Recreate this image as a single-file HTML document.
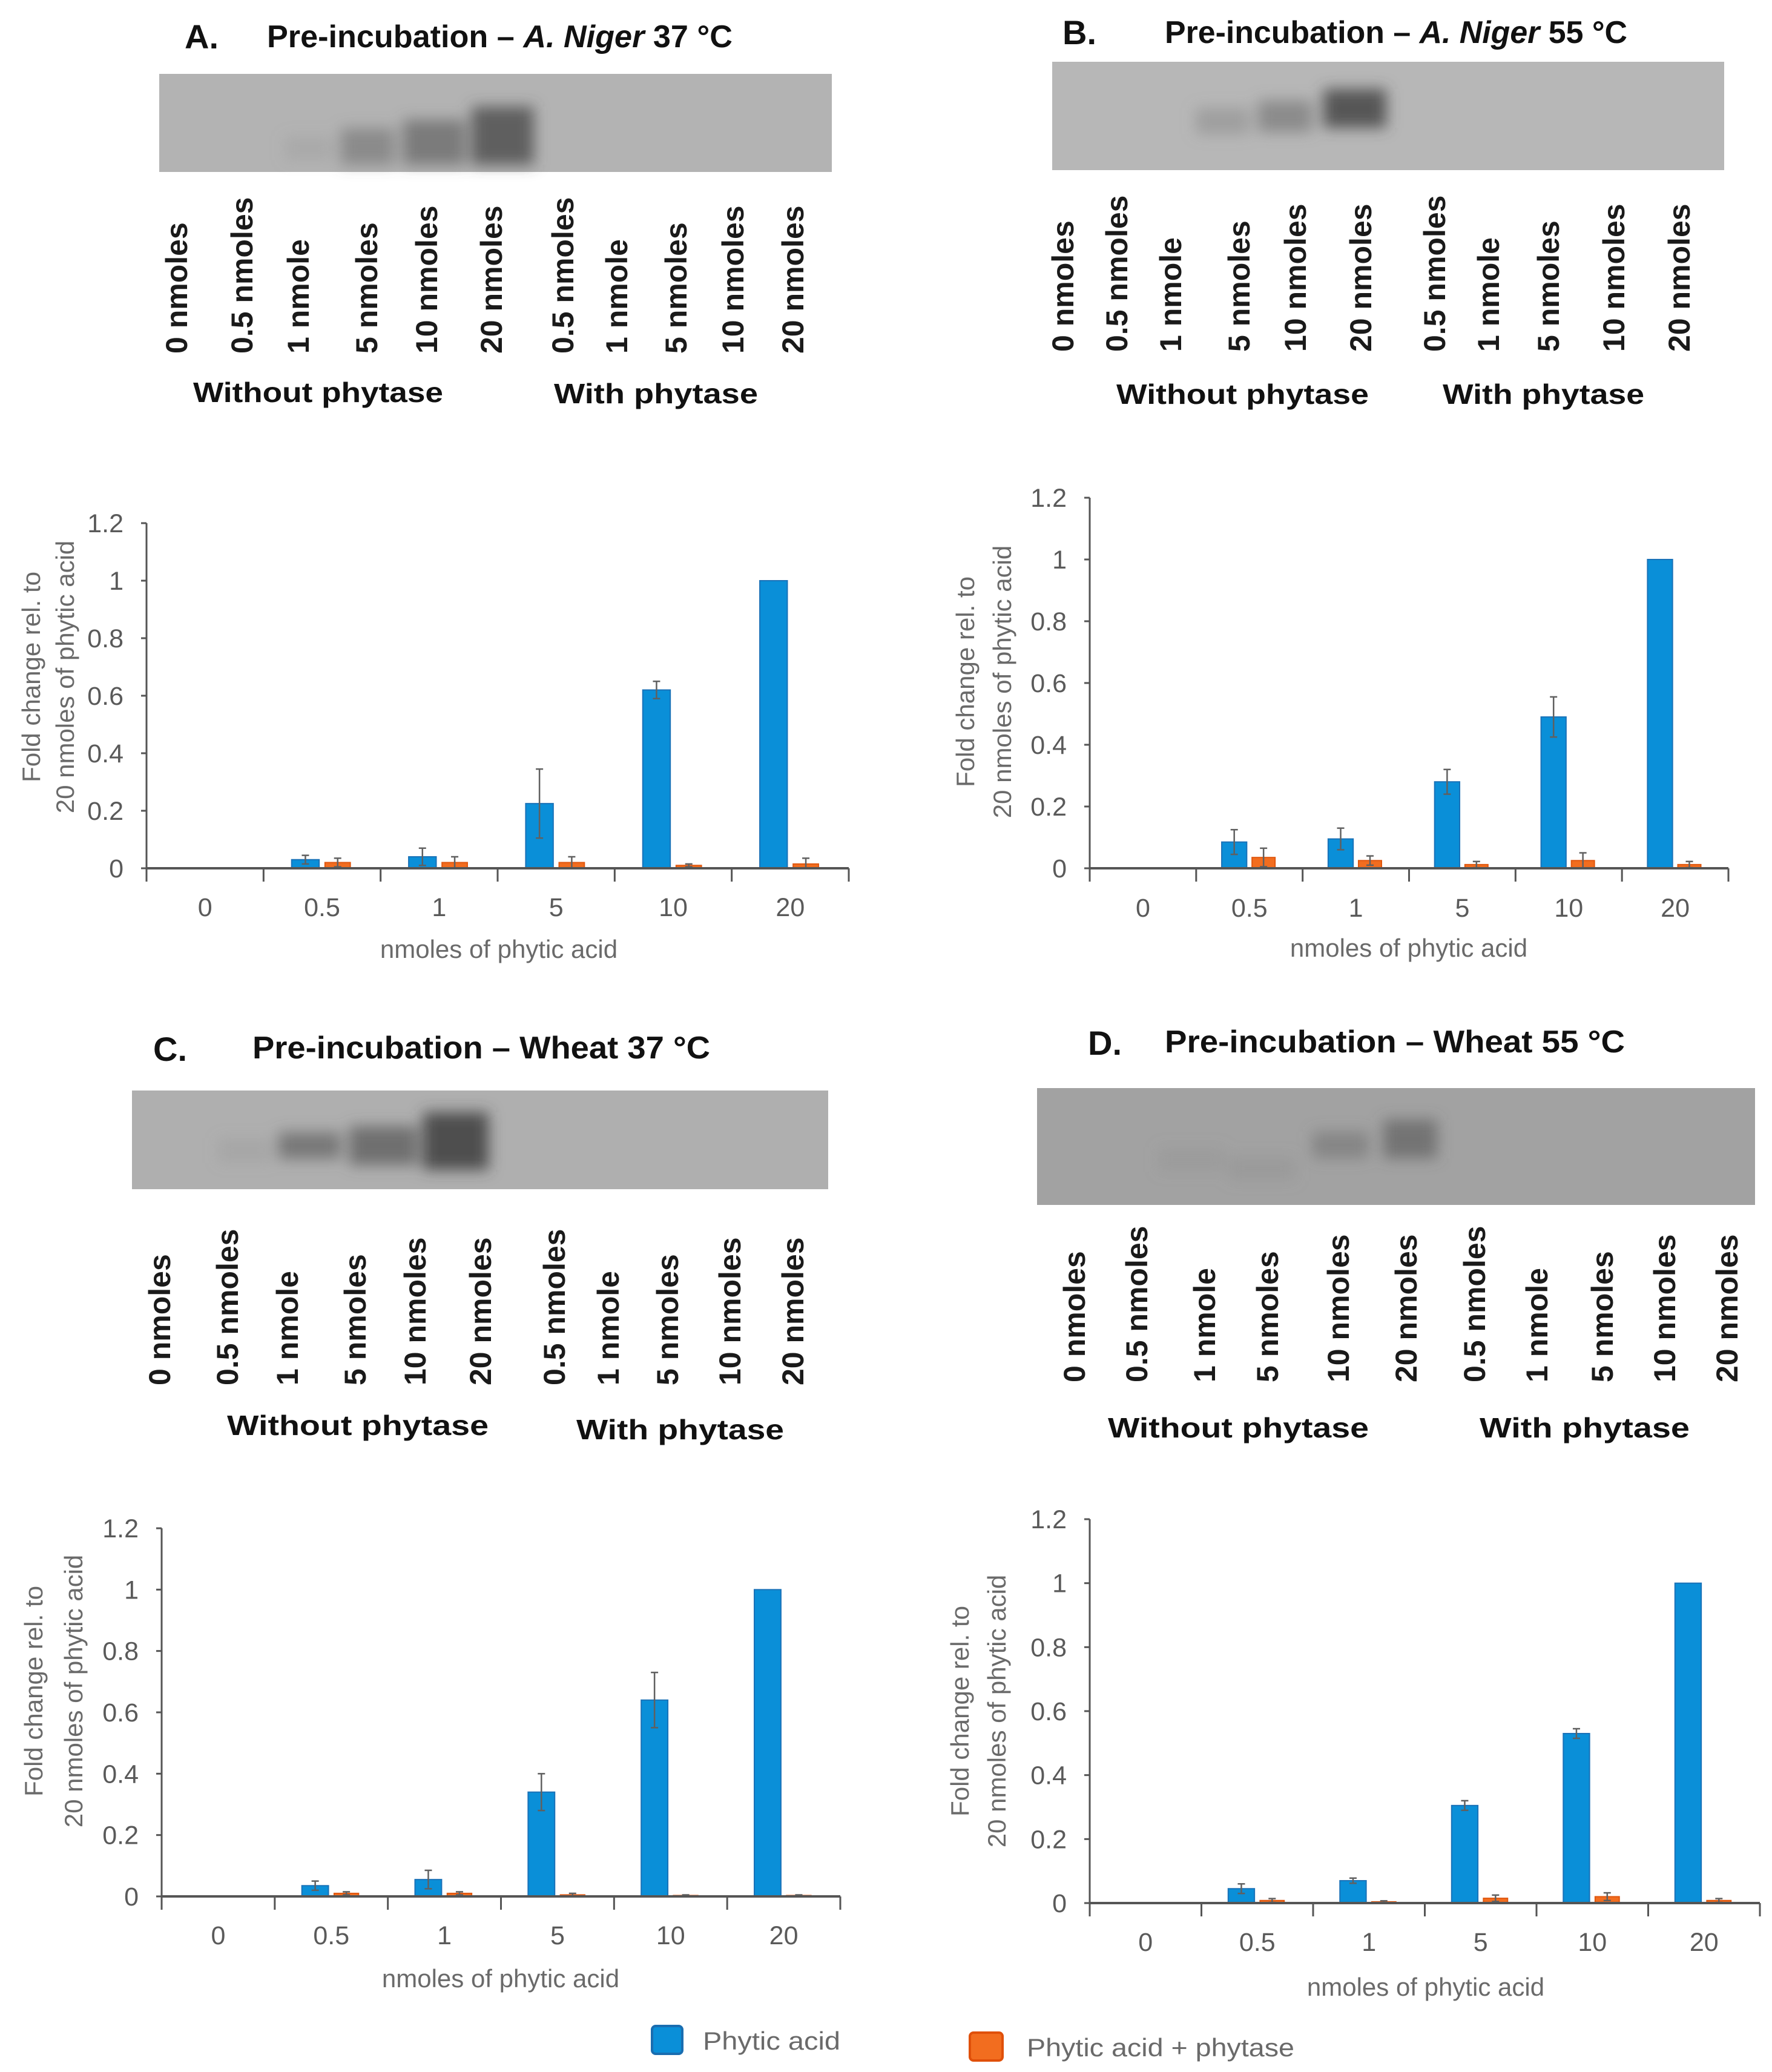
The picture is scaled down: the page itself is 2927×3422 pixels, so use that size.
<!DOCTYPE html>
<html><head><meta charset="utf-8"><style>
html,body{margin:0;padding:0;background:#fff;}
svg{display:block;}
.ttl{font-family:"Liberation Sans",sans-serif;font-weight:bold;fill:#111;}
.lane{font-family:"Liberation Sans",sans-serif;font-weight:bold;fill:#1a1a1a;font-size:50px;}
.tick{font-family:"Liberation Sans",sans-serif;fill:#5a5a5a;font-size:43px;}
.axt{font-family:"Liberation Sans",sans-serif;fill:#6a6a6a;font-size:42px;}
</style></head><body>
<svg id="fig" xmlns="http://www.w3.org/2000/svg" width="2927" height="3422" viewBox="0 0 2927 3422">
<defs><filter id="blur" x="-50%" y="-50%" width="200%" height="200%"><feGaussianBlur stdDeviation="12"/></filter></defs>
<rect width="2927" height="3422" fill="#fff"/>

<!-- Panel titles -->
<g>
<text class="ttl" x="305" y="80" font-size="56">A.</text>
<text class="ttl" x="441" y="78" font-size="52" textLength="769" lengthAdjust="spacingAndGlyphs">Pre-incubation – <tspan font-style="italic">A. Niger</tspan> 37 °C</text>
</g>
<g>
<text class="ttl" x="1755" y="73" font-size="56">B.</text>
<text class="ttl" x="1924" y="71" font-size="52" textLength="764" lengthAdjust="spacingAndGlyphs">Pre-incubation – <tspan font-style="italic">A. Niger</tspan> 55 °C</text>
</g>
<g>
<text class="ttl" x="253" y="1752" font-size="56">C.</text>
<text class="ttl" x="417" y="1748" font-size="52" textLength="756" lengthAdjust="spacingAndGlyphs">Pre-incubation – Wheat 37 °C</text>
</g>
<g>
<text class="ttl" x="1797" y="1742" font-size="56">D.</text>
<text class="ttl" x="1924" y="1738" font-size="52" textLength="760" lengthAdjust="spacingAndGlyphs">Pre-incubation – Wheat 55 °C</text>
</g>

<!-- Gels -->
<g>
<rect x="263" y="122" width="1111" height="162" fill="#b3b3b3"/>
<g filter="url(#blur)">
<rect x="470" y="225" width="80" height="40" fill="#8a8a8a" opacity="0.25"/>
<rect x="563" y="212" width="89" height="60" fill="#6a6a6a" opacity="0.55"/>
<rect x="666" y="198" width="103" height="74" fill="#5e5e5e" opacity="0.65"/>
<rect x="779" y="176" width="103" height="96" fill="#4a4a4a" opacity="0.8"/>
</g></g>
<g>
<rect x="1738" y="102" width="1110" height="179" fill="#b7b7b7"/>
<g filter="url(#blur)">
<rect x="1975" y="178" width="89" height="44" fill="#7a7a7a" opacity="0.4"/>
<rect x="2078" y="166" width="90" height="52" fill="#666" opacity="0.55"/>
<rect x="2186" y="147" width="104" height="64" fill="#454545" opacity="0.85"/>
</g></g>
<g>
<rect x="218" y="1801" width="1150" height="163" fill="#afafaf"/>
<g filter="url(#blur)">
<rect x="360" y="1880" width="90" height="40" fill="#8a8a8a" opacity="0.25"/>
<rect x="460" y="1870" width="103" height="44" fill="#5a5a5a" opacity="0.65"/>
<rect x="577" y="1860" width="113" height="64" fill="#555" opacity="0.7"/>
<rect x="699" y="1837" width="108" height="95" fill="#3c3c3c" opacity="0.85"/>
</g></g>
<g>
<rect x="1713" y="1797" width="1186" height="193" fill="#a2a2a2"/>
<g filter="url(#blur)">
<rect x="1913" y="1895" width="110" height="40" fill="#888" opacity="0.25"/>
<rect x="2030" y="1910" width="110" height="40" fill="#888" opacity="0.3"/>
<rect x="2168" y="1869" width="93" height="44" fill="#6a6a6a" opacity="0.5"/>
<rect x="2285" y="1849" width="89" height="64" fill="#5a5a5a" opacity="0.65"/>
</g></g>

<g id="lanes"></g>
<g id="charts"></g>

<!-- Legend -->
<g>
<g>
<rect x="1077" y="3346" width="50" height="46" rx="6" fill="#0a8fd8" stroke="#1a6db0" stroke-width="4"/>
<text class="axt" x="1161" y="3385" font-size="44" textLength="227" lengthAdjust="spacingAndGlyphs">Phytic acid</text>
</g>
<g>
<rect x="1602" y="3357" width="54" height="46" rx="6" fill="#f26d1f" stroke="#e0500a" stroke-width="4"/>
<text class="axt" x="1696" y="3396" font-size="44" textLength="442" lengthAdjust="spacingAndGlyphs">Phytic acid + phytase</text>
</g>
</g>
</svg>
<script>
const NS = 'http://www.w3.org/2000/svg';
const categories = ['0', '0.5', '1', '5', '10', '20'];
const yTicks = [0, 0.2, 0.4, 0.6, 0.8, 1, 1.2];
const yTickLabels = ['0', '0.2', '0.4', '0.6', '0.8', '1', '1.2'];
const laneLabels = ['0 nmoles','0.5 nmoles','1 nmole','5 nmoles','10 nmoles','20 nmoles','0.5 nmoles','1 nmole','5 nmoles','10 nmoles','20 nmoles'];

const blueA = [0, 0.03, 0.04, 0.225, 0.62, 1];
const blueErrA = [0, 0.015, 0.03, 0.12, 0.03, 0];
const orangeA = [0, 0.02, 0.02, 0.02, 0.01, 0.015];
const orangeErrA = [0, 0.015, 0.02, 0.02, 0.005, 0.02];

const blueB = [0, 0.085, 0.095, 0.28, 0.49, 1];
const blueErrB = [0, 0.04, 0.035, 0.04, 0.065, 0];
const orangeB = [0, 0.035, 0.025, 0.012, 0.025, 0.012];
const orangeErrB = [0, 0.03, 0.015, 0.01, 0.025, 0.01];

const blueC = [0, 0.035, 0.055, 0.34, 0.64, 1];
const blueErrC = [0, 0.015, 0.03, 0.06, 0.09, 0];
const orangeC = [0, 0.01, 0.01, 0.005, 0.003, 0.003];
const orangeErrC = [0, 0.005, 0.005, 0.005, 0.002, 0.002];

const blueD = [0, 0.045, 0.07, 0.305, 0.53, 1];
const blueErrD = [0, 0.015, 0.008, 0.015, 0.015, 0];
const orangeD = [0, 0.008, 0.004, 0.015, 0.02, 0.008];
const orangeErrD = [0, 0.006, 0.003, 0.01, 0.012, 0.006];

function mk(tag, attrs, parent) {
  const e = document.createElementNS(NS, tag);
  for (const k in attrs) e.setAttribute(k, attrs[k]);
  parent.appendChild(e);
  return e;
}

// Gel lane labels
const lanesG = document.getElementById('lanes');
const gelRows = [
  {id:'a', xs:[291,399,492,605,704,811,929,1018,1116,1210,1309], bottom:584, wo:[319,732,664], w:[915,1252,666]},
  {id:'b', xs:[1755,1844,1933,2046,2139,2247,2369,2458,2557,2665,2773], bottom:581, wo:[1844,2261,667], w:[2383,2716,667]},
  {id:'c', xs:[263,375,474,586,685,793,915,1004,1102,1205,1309], bottom:2288, wo:[375,807,2370], w:[952,1295,2377]},
  {id:'d', xs:[1774,1877,1989,2093,2210,2322,2435,2538,2646,2749,2852], bottom:2283, wo:[1830,2261,2374], w:[2444,2791,2374]}
];
gelRows.forEach(r => {
  const g = mk('g', {}, lanesG);
  
  
  r.xs.forEach((x, i) => {
    const bx = x + 18;
    const t = mk('text', {class:'lane', x:bx, y:r.bottom, transform:'rotate(-90 ' + bx + ' ' + r.bottom + ')'}, g);
    
    
    t.textContent = laneLabels[i];
  });
  const t1 = mk('text', {class:'ttl', x:r.wo[0], y:r.wo[2], 'font-size':46, textLength:r.wo[1]-r.wo[0], lengthAdjust:'spacingAndGlyphs'}, g);
  
  
  t1.textContent = 'Without phytase';
  const t2 = mk('text', {class:'ttl', x:r.w[0], y:r.w[2], 'font-size':46, textLength:r.w[1]-r.w[0], lengthAdjust:'spacingAndGlyphs'}, g);
  
  
  t2.textContent = 'With phytase';
});

// Charts
const chartsG = document.getElementById('charts');
const charts = [
  {id:'a', x0:242, x1:1402, zero:1434, top:864, catY:1513, titleY:1582, titleX:824, yt:[52,108], ytY:1118, blue:blueA, be:blueErrA, orange:orangeA, oe:orangeErrA},
  {id:'b', x0:1800, x1:2855, zero:1434, top:822, catY:1514, titleY:1580, titleX:2327, yt:[1595,1656], ytY:1126, blue:blueB, be:blueErrB, orange:orangeB, oe:orangeErrB},
  {id:'c', x0:267, x1:1388, zero:3132, top:2524, catY:3211, titleY:3282, titleX:827, yt:[56,122], ytY:2793, blue:blueC, be:blueErrC, orange:orangeC, oe:orangeErrC},
  {id:'d', x0:1800, x1:2907, zero:3143, top:2509, catY:3222, titleY:3296, titleX:2355, yt:[1586,1647], ytY:2826, blue:blueD, be:blueErrD, orange:orangeD, oe:orangeErrD}
];
charts.forEach(c => {
  const g = mk('g', {}, chartsG);
  
  
  const yS = v => c.zero - (v / 1.2) * (c.zero - c.top);
  const sp = (c.x1 - c.x0) / categories.length;
  const xC = i => c.x0 + (i + 0.5) * sp;
  // y axis
  const ya = mk('line', {x1:c.x0, y1:c.top, x2:c.x0, y2:c.zero + 22, stroke:'#555', 'stroke-width':3}, g);
  
  
  yTicks.forEach((v, i) => {
    mk('line', {x1:c.x0 - 9, y1:yS(v), x2:c.x0, y2:yS(v), stroke:'#555', 'stroke-width':3}, g);
    const t = mk('text', {class:'tick', x:c.x0 - 38, y:yS(v) + 15, 'text-anchor':'end'}, g);
    
    
    t.textContent = yTickLabels[i];
  });
  // bars
  categories.forEach((cat, i) => {
    const cx = xC(i);
    const bw = sp * 0.235;
    const bx = cx - sp * 0.26;
    const ox = cx + sp * 0.025;
    if (c.blue[i] > 0) {
      const b = mk('rect', {x:bx, y:yS(c.blue[i]), width:bw, height:c.zero - yS(c.blue[i]), fill:'#0a8fd8', stroke:'#1a72b8', 'stroke-width':2}, g);
      
      
    }
    if (c.orange[i] > 0) {
      const o = mk('rect', {x:ox, y:yS(c.orange[i]), width:bw * 0.92, height:c.zero - yS(c.orange[i]), fill:'#f26d1f', stroke:'#e0570f', 'stroke-width':2}, g);
      
      
    }
    [[bx + bw / 2, c.blue[i], c.be[i]], [ox + bw * 0.46, c.orange[i], c.oe[i]]].forEach(([ex, v, e]) => {
      if (e <= 0) return;
      const eg = mk('g', {stroke:'#606060', 'stroke-width':2.5}, g);
      
      
      mk('line', {x1:ex, y1:yS(v + e), x2:ex, y2:yS(Math.max(0, v - e))}, eg);
      mk('line', {x1:ex - 6, y1:yS(v + e), x2:ex + 6, y2:yS(v + e)}, eg);
      mk('line', {x1:ex - 6, y1:yS(Math.max(0, v - e)), x2:ex + 6, y2:yS(Math.max(0, v - e))}, eg);
    });
    const t = mk('text', {class:'tick', x:cx, y:c.catY, 'text-anchor':'middle'}, g);
    
    
    t.textContent = cat;
  });
  // x axis
  const xa = mk('line', {x1:c.x0, y1:c.zero, x2:c.x1, y2:c.zero, stroke:'#555', 'stroke-width':4}, g);
  
  
  for (let i = 0; i <= categories.length; i++) {
    mk('line', {x1:c.x0 + i * sp, y1:c.zero, x2:c.x0 + i * sp, y2:c.zero + 22, stroke:'#555', 'stroke-width':3}, g);
  }
  const xt = mk('text', {class:'axt', x:c.titleX, y:c.titleY, 'text-anchor':'middle', 'font-size':44}, g);
  
  
  xt.textContent = 'nmoles of phytic acid';
  const lines = ['Fold change rel. to', '20 nmoles of phytic acid'];
  lines.forEach((s, k) => {
    const bx = c.yt[k] + 14;
    const t = mk('text', {class:'axt', x:bx, y:c.ytY, 'text-anchor':'middle', transform:'rotate(-90 ' + bx + ' ' + c.ytY + ')'}, g);
    
    
    t.textContent = s;
  });
});
</script>
</body></html>
